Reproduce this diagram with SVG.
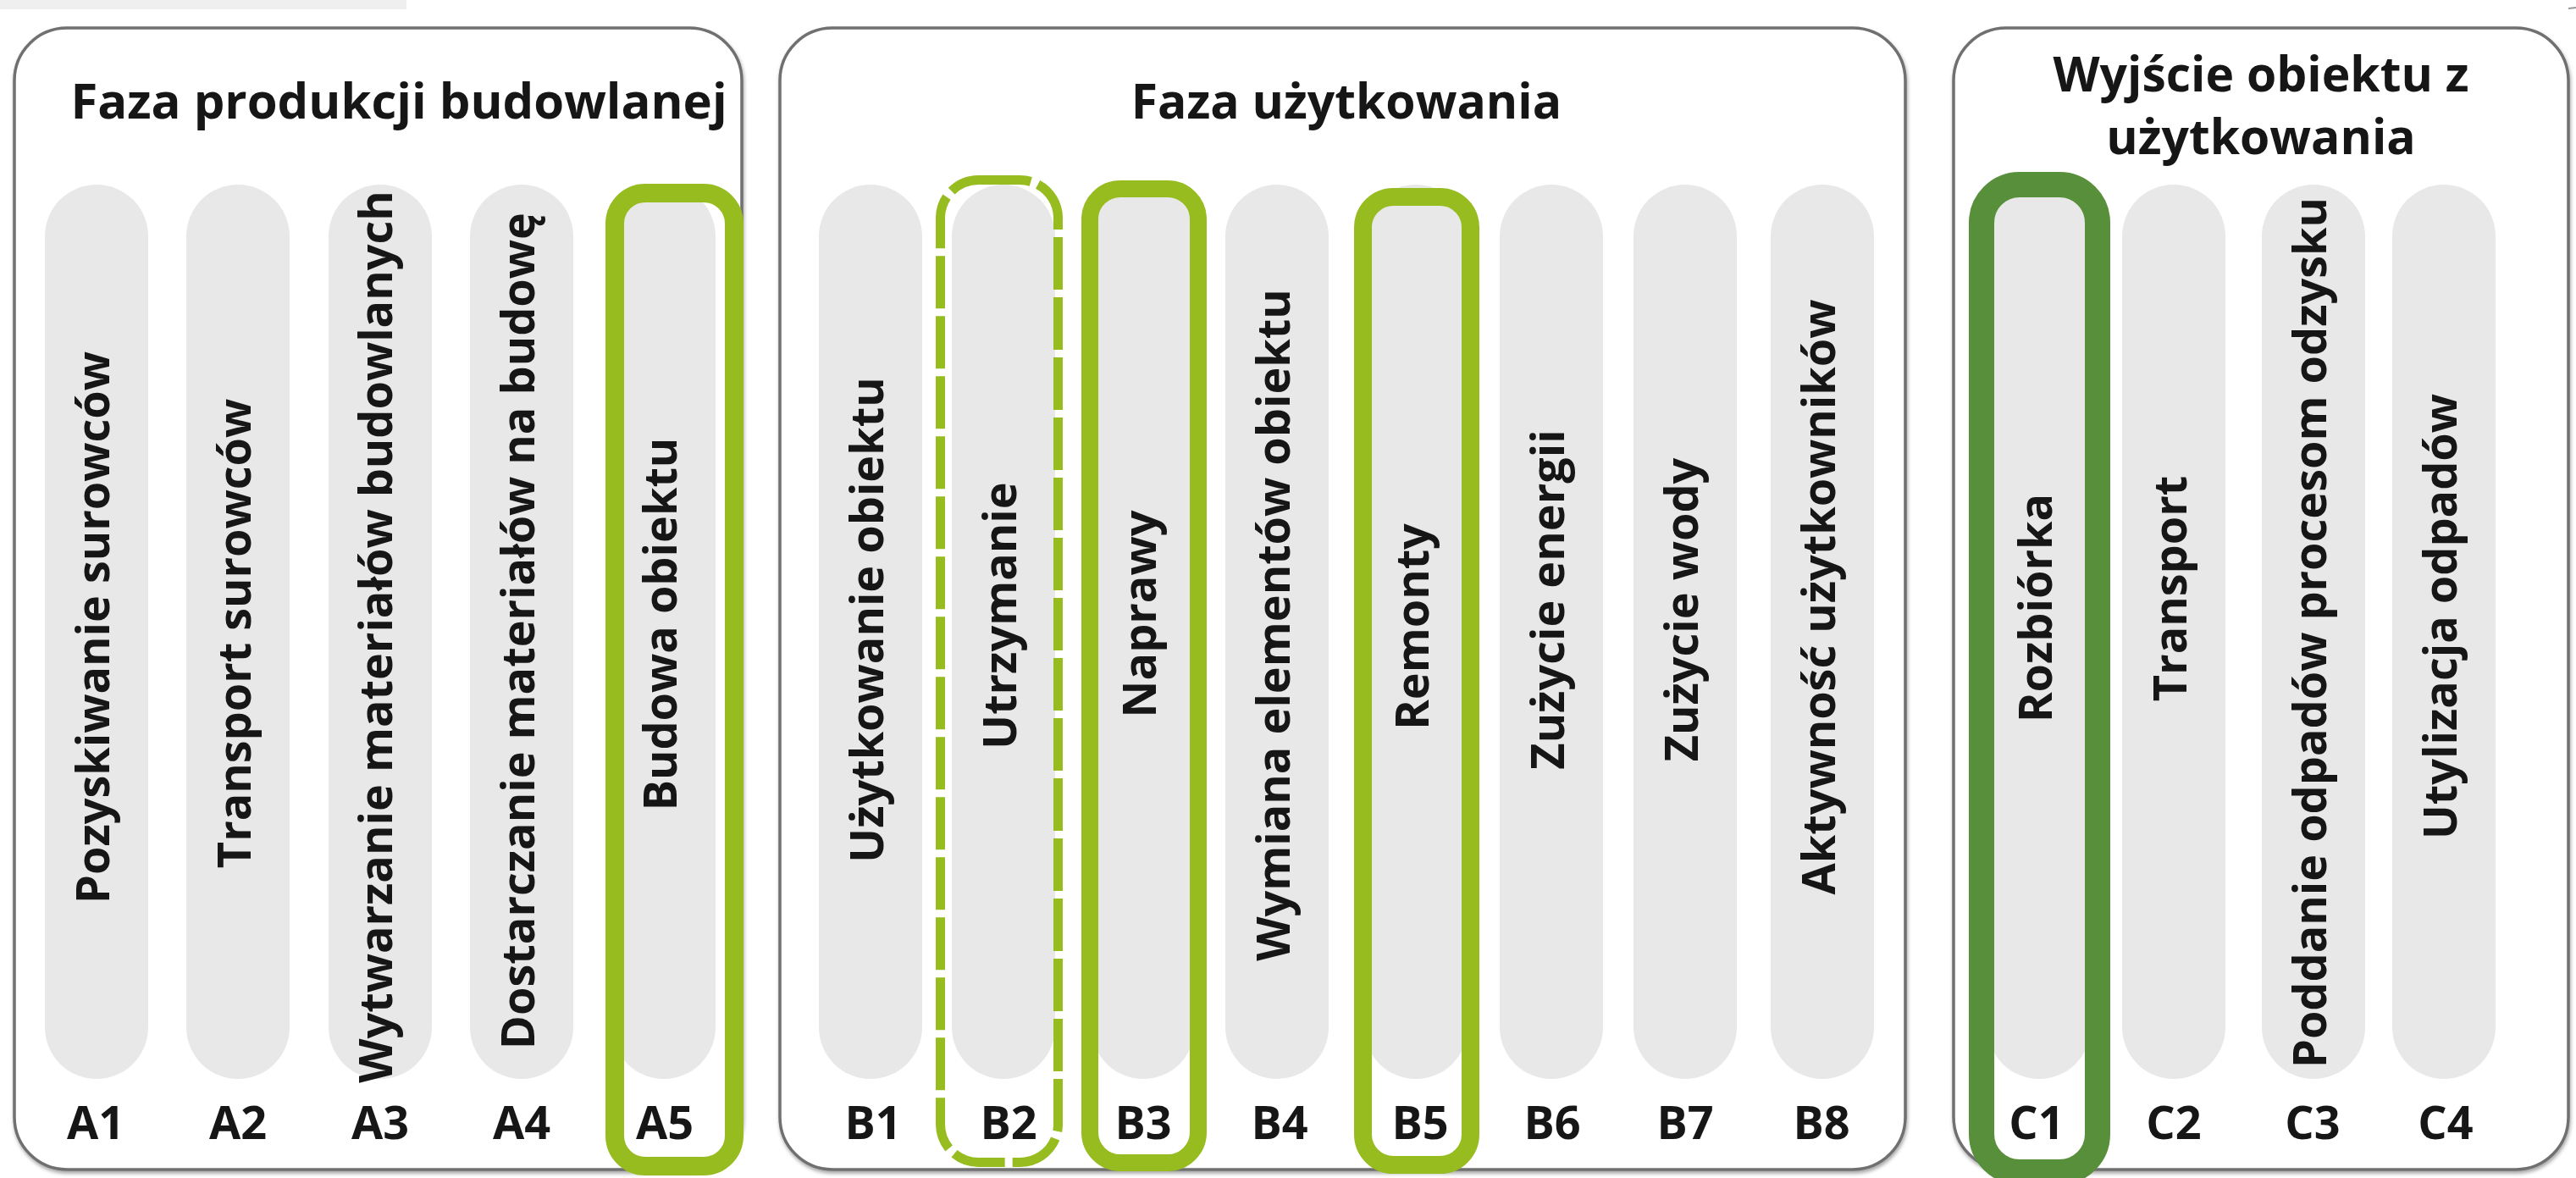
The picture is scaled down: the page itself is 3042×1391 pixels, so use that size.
<svg xmlns="http://www.w3.org/2000/svg" width="3042" height="1391" viewBox="0 0 3042 1391">
<defs>
<filter id="sh" x="-5%" y="-5%" width="110%" height="110%">
<feDropShadow dx="1" dy="3" stdDeviation="2" flood-color="#000" flood-opacity="0.35"/>
</filter>
</defs>
<style>
.panel{fill:#fff;stroke:#6f6f6f;stroke-width:3.5}
.pill{fill:#e8e8e8}
.t{font-family:"Open Sans","Liberation Sans",sans-serif;font-weight:700;fill:#161616}
.title{font-size:57px;text-anchor:middle}
.lab{font-size:54px;text-anchor:middle}
.v{font-size:54px;text-anchor:middle}
.hl{fill:none;stroke:#97bc1f}
.hd{fill:none;stroke:#588f3a}
</style>
<rect width="3042" height="1391" fill="#fff"/>
<rect x="0" y="0" width="480" height="11" fill="#efefef"/>
<line x1="3033" y1="10" x2="3042" y2="9" stroke="#999" stroke-width="2"/>

<g id="panel-A">
<rect class="panel" filter="url(#sh)" x="17" y="33" width="859" height="1348" rx="62"/>
<text class="t title" x="471" y="140" style="font-size:58px">Faza produkcji budowlanej</text>
</g>
<g id="panel-B">
<rect class="panel" filter="url(#sh)" x="921" y="33" width="1329" height="1348" rx="62"/>
<text class="t title" x="1590" y="140">Faza użytkowania</text>
</g>
<g id="panel-C">
<rect class="panel" filter="url(#sh)" x="2307" y="33" width="726" height="1348" rx="62"/>
<text class="t title" x="2670" y="108">Wyjście obiektu z</text>
<text class="t title" x="2670" y="182">użytkowania</text>
</g>

<g id="A1"><rect class="pill" x="53" y="218" width="122" height="1056" rx="61"/>
<text class="t v" transform="translate(129,741) rotate(-90)">Pozyskiwanie surowców</text>
<text class="t lab" x="113" y="1345">A1</text></g>
<g id="A2"><rect class="pill" x="220" y="218" width="122" height="1056" rx="61"/>
<text class="t v" transform="translate(296,748) rotate(-90)">Transport surowców</text>
<text class="t lab" x="281" y="1345">A2</text></g>
<g id="A3"><rect class="pill" x="388" y="218" width="122" height="1056" rx="61"/>
<text class="t v" transform="translate(463,752) rotate(-90)">Wytwarzanie materiałów budowlanych</text>
<text class="t lab" x="449" y="1345">A3</text></g>
<g id="A4"><rect class="pill" x="555" y="218" width="122" height="1056" rx="61"/>
<text class="t v" transform="translate(631,745) rotate(-90)">Dostarczanie materiałów na budowę</text>
<text class="t lab" x="616" y="1345">A4</text></g>
<g id="A5"><rect class="pill" x="723" y="218" width="122" height="1056" rx="61"/>
<text class="t v" transform="translate(799,737) rotate(-90)">Budowa obiektu</text>
<text class="t lab" x="785" y="1345">A5</text>
<rect class="hl" x="726" y="228" width="141" height="1149" rx="36" stroke-width="22"/></g>

<g id="B1"><rect class="pill" x="967" y="218" width="122" height="1056" rx="61"/>
<text class="t v" transform="translate(1043,732) rotate(-90)">Użytkowanie obiektu</text>
<text class="t lab" x="1031" y="1345">B1</text></g>
<g id="B2"><rect class="pill" x="1124" y="218" width="122" height="1056" rx="61"/>
<text class="t v" transform="translate(1200,727) rotate(-90)">Utrzymanie</text>
<text class="t lab" x="1191" y="1345">B2</text>
<rect class="hl" x="1110.5" y="212.5" width="139" height="1160" rx="45" stroke-width="11" stroke-dasharray="62 9"/></g>
<g id="B3"><rect class="pill" x="1289" y="218" width="122" height="1056" rx="61"/>
<text class="t v" transform="translate(1365,725) rotate(-90)">Naprawy</text>
<text class="t lab" x="1350" y="1345">B3</text>
<rect class="hl" x="1287" y="223" width="128" height="1150" rx="36" stroke-width="20"/></g>
<g id="B4"><rect class="pill" x="1447" y="218" width="122" height="1056" rx="61"/>
<text class="t v" transform="translate(1523,738) rotate(-90)">Wymiana elementów obiektu</text>
<text class="t lab" x="1511" y="1345">B4</text></g>
<g id="B5"><rect class="pill" x="1611" y="218" width="122" height="1056" rx="61"/>
<text class="t v" transform="translate(1687,740) rotate(-90)">Remonty</text>
<text class="t lab" x="1677" y="1345">B5</text>
<rect class="hl" x="1609.5" y="232.5" width="127" height="1143" rx="36" stroke-width="21"/></g>
<g id="B6"><rect class="pill" x="1771" y="218" width="122" height="1056" rx="61"/>
<text class="t v" transform="translate(1847,708) rotate(-90)">Zużycie energii</text>
<text class="t lab" x="1833" y="1345">B6</text></g>
<g id="B7"><rect class="pill" x="1929" y="218" width="122" height="1056" rx="61"/>
<text class="t v" transform="translate(2005,720) rotate(-90)">Zużycie wody</text>
<text class="t lab" x="1990" y="1345">B7</text></g>
<g id="B8"><rect class="pill" x="2091" y="218" width="122" height="1056" rx="61"/>
<text class="t v" transform="translate(2167,705) rotate(-90)">Aktywność użytkowników</text>
<text class="t lab" x="2151" y="1345">B8</text></g>

<g id="C1"><rect class="pill" x="2347" y="218" width="122" height="1056" rx="61"/>
<text class="t v" transform="translate(2423,718) rotate(-90)">Rozbiórka</text>
<text class="t lab" x="2405" y="1345">C1</text>
<rect class="hd" x="2340" y="218" width="137" height="1166" rx="45" stroke-width="30"/></g>
<g id="C2"><rect class="pill" x="2506" y="218" width="122" height="1056" rx="61"/>
<text class="t v" transform="translate(2582,695) rotate(-90)">Transport</text>
<text class="t lab" x="2567" y="1345">C2</text></g>
<g id="C3"><rect class="pill" x="2671" y="218" width="122" height="1056" rx="61"/>
<text class="t v" transform="translate(2747,747) rotate(-90)">Poddanie odpadów procesom odzysku</text>
<text class="t lab" x="2731" y="1345">C3</text></g>
<g id="C4"><rect class="pill" x="2825" y="218" width="122" height="1056" rx="61"/>
<text class="t v" transform="translate(2901,728) rotate(-90)">Utylizacja odpadów</text>
<text class="t lab" x="2888" y="1345">C4</text></g>

<g id="connectors"/>
</svg>
